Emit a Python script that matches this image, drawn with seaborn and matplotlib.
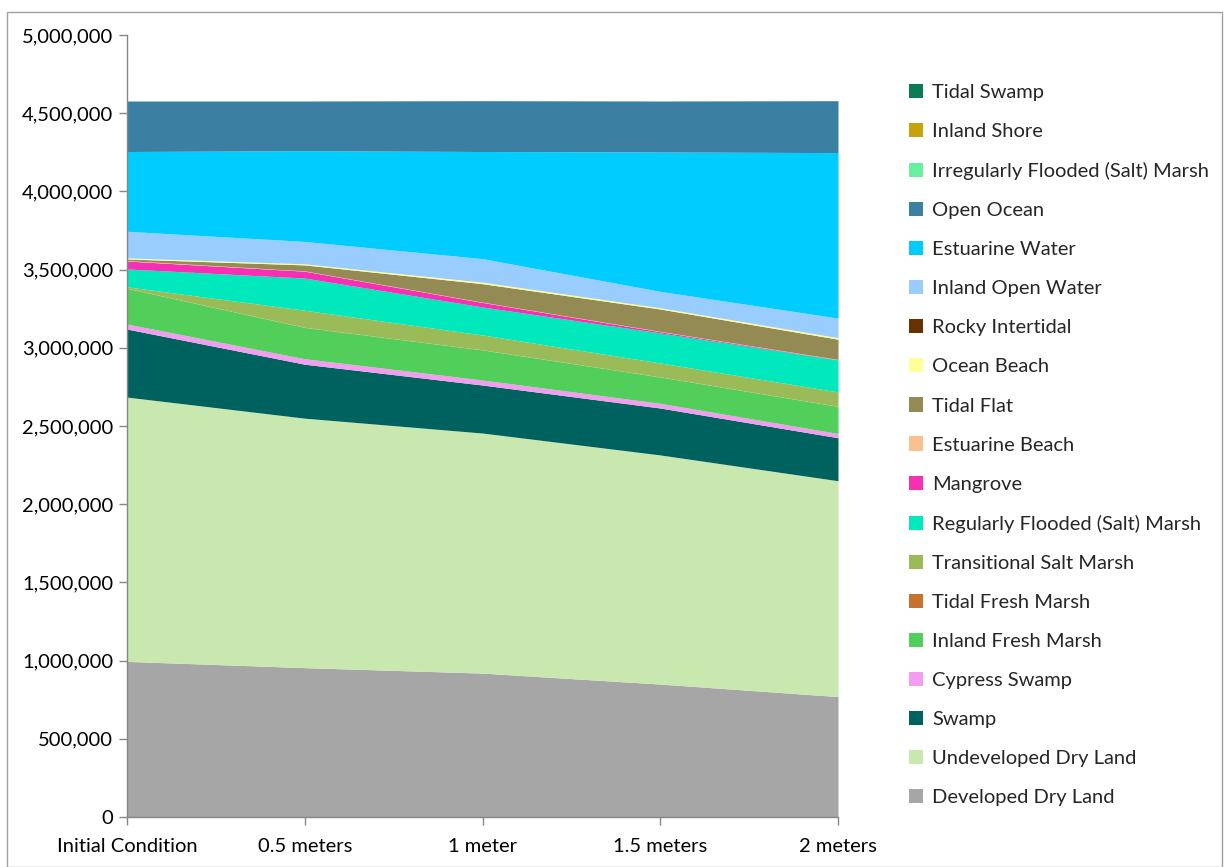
import matplotlib
matplotlib.use("Agg")
import matplotlib.pyplot as plt
import matplotlib.ticker as mticker
from matplotlib.patches import Patch, Rectangle
import seaborn as sns
import pandas as pd

scenarios = ["Initial Condition", "0.5 meters", "1 meter", "1.5 meters", "2 meters"]

# stacking order bottom -> top
categories = [
    "Developed Dry Land", "Undeveloped Dry Land", "Swamp", "Cypress Swamp",
    "Inland Fresh Marsh", "Tidal Fresh Marsh", "Transitional Salt Marsh",
    "Regularly Flooded (Salt) Marsh", "Mangrove", "Estuarine Beach", "Tidal Flat",
    "Ocean Beach", "Rocky Intertidal", "Inland Open Water", "Estuarine Water",
    "Open Ocean", "Irregularly Flooded (Salt) Marsh", "Inland Shore", "Tidal Swamp",
]

developed_dry_land = [995000, 955000, 920000, 850000, 770000]
undeveloped_dry_land = [1690000, 1595000, 1535000, 1465000, 1380000]
swamp = [435000, 345000, 307000, 300000, 275000]
cypress_swamp = [32000, 35000, 32000, 30000, 27000]
inland_fresh_marsh = [228000, 200000, 192000, 168000, 173000]
tidal_fresh_marsh = [1000, 1000, 1000, 1000, 1000]
transitional_salt_marsh = [9000, 109000, 95000, 89000, 92000]
regularly_flooded_marsh = [114000, 206000, 179000, 192000, 204000]
mangrove = [51000, 44000, 29000, 8000, 2000]
estuarine_beach = [3000, 2000, 2000, 2000, 2000]
tidal_flat = [10000, 38000, 118000, 143000, 129000]
ocean_beach = [7000, 7000, 10000, 8000, 10000]
rocky_intertidal = [0, 0, 0, 0, 0]
inland_open_water = [170000, 143000, 150000, 105000, 125000]
estuarine_water = [510000, 580000, 685000, 891000, 1058000]
open_ocean = [323000, 318000, 325000, 326000, 332000]
irregularly_flooded_marsh = [0, 0, 0, 0, 0]
inland_shore = [0, 0, 0, 0, 0]
tidal_swamp = [0, 0, 0, 0, 0]

series = [
    developed_dry_land, undeveloped_dry_land, swamp, cypress_swamp,
    inland_fresh_marsh, tidal_fresh_marsh, transitional_salt_marsh,
    regularly_flooded_marsh, mangrove, estuarine_beach, tidal_flat,
    ocean_beach, rocky_intertidal, inland_open_water, estuarine_water,
    open_ocean, irregularly_flooded_marsh, inland_shore, tidal_swamp,
]

colors = [
    "#a6a6a6", "#c8e8b0", "#00625f", "#f49cf0", "#52cf5a", "#c8702e",
    "#9bbb59", "#00e8bc", "#f72fb5", "#fac090", "#948a54", "#ffff99",
    "#663300", "#99ccff", "#00ccff", "#3b80a3", "#66f0a0", "#c8a20a", "#0b7a55",
]

df = pd.DataFrame(dict(zip(categories, series)), index=scenarios)

sns.set_theme(style="white")
plt.rcParams["font.family"] = ["Lato", "DejaVu Sans"]

fig = plt.figure(figsize=(12.24, 8.67), dpi=100)
ax = fig.add_axes([127 / 1224, 50 / 867, (838 - 127) / 1224, (817 - 35) / 867])

x = list(range(len(scenarios)))
ax.stackplot(x, *[df[c].values for c in categories], colors=colors,
             linewidth=0, antialiased=True)

ax.set_xlim(0, len(scenarios) - 1)
ax.set_ylim(0, 5000000)
ax.set_xticks(x)
ax.set_xticklabels(scenarios)
ax.set_yticks(range(0, 5000001, 500000))
ax.yaxis.set_major_formatter(mticker.FuncFormatter(lambda v, p: f"{int(v):,}"))

for side in ["top", "right"]:
    ax.spines[side].set_visible(False)
for side in ["left", "bottom"]:
    ax.spines[side].set_color("#868686")
    ax.spines[side].set_linewidth(1)

ax.tick_params(axis="both", which="major", direction="out", length=6,
               width=1, color="#868686", labelsize=14.5, labelcolor="#000000",
               left=True, bottom=True)
ax.tick_params(axis="x", pad=9)
ax.tick_params(axis="y", pad=4)
ax.grid(False)

handles = [Patch(facecolor=colors[i], edgecolor="none", label=categories[i])
           for i in range(len(categories) - 1, -1, -1)]
fig.legend(handles=handles, loc="upper left", bbox_to_anchor=(901 / 1224, 1 - 76 / 867),
           frameon=False, fontsize=14.5, handlelength=0.7, handleheight=0.7,
           handletextpad=0.45, labelspacing=1.09, borderaxespad=0)

fig.patches.append(Rectangle((7 / 1224, 0), 1 - 9 / 1224, 1 - 12 / 867,
                             transform=fig.transFigure, fill=False,
                             edgecolor="#a0a0a0", linewidth=1))

fig.savefig("out.png", dpi=100)
